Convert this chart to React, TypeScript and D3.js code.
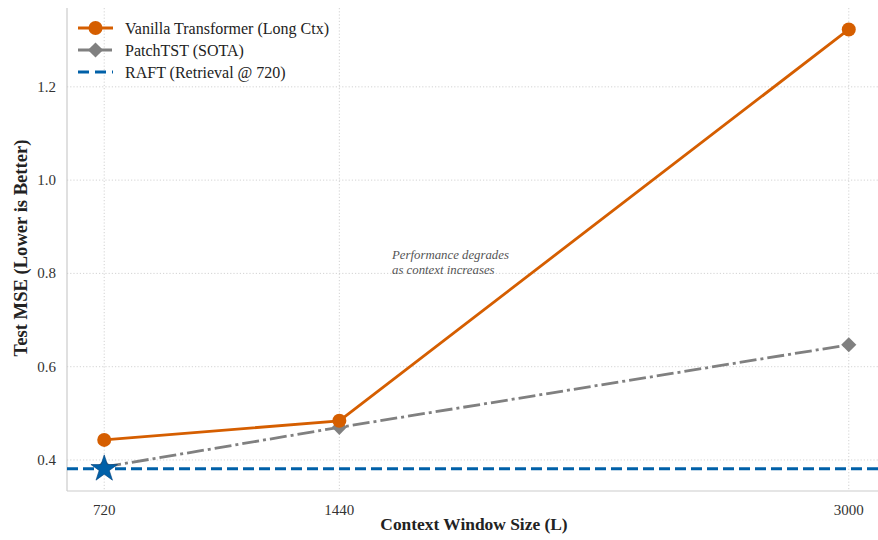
import { useEffect, useRef } from 'react';
import * as d3 from 'd3';

// context window sizes and test MSE
const contexts = [720, 1440, 3000];
const vanillaMse = [0.443, 0.484, 1.323];
const patchMse = [0.385, 0.47, 0.647];
const raftMse = 0.381;
const yTicks = [0.4, 0.6, 0.8, 1.0, 1.2];
const legendLabels = ['Vanilla Transformer (Long Ctx)', 'PatchTST (SOTA)', 'RAFT (Retrieval @ 720)'];
const noteLines = ['Performance degrades', 'as context increases'];

const W = 878;
const H = 540;
const FONT = '"Liberation Serif", "DejaVu Serif", serif';
const ORANGE = '#D55E00';
const GRAY = '#808080';
const BLUE = '#0060A8';

const App = () => {
    const ref = useRef(null);

    useEffect(() => {
        const svg = d3.select(ref.current);
        svg.selectAll('*').remove();

        const left = 67, right = 886, top = 8, bottom = 491;
        const x = d3.scaleLinear().domain([606, 3114]).range([left, right]);
        const y = d3.scaleLinear().domain([0.3335, 1.369]).range([bottom, top]);

        const g = svg.append('g').style('font-family', FONT);

        // grid
        g.append('g').selectAll('line').data(yTicks).join('line')
            .attr('x1', left).attr('x2', W).attr('y1', d => y(d)).attr('y2', d => y(d))
            .attr('stroke', '#c8c8c8').attr('stroke-width', 0.8).attr('stroke-dasharray', '1.2,2');
        g.append('g').selectAll('line').data(contexts).join('line')
            .attr('x1', d => x(d)).attr('x2', d => x(d)).attr('y1', top).attr('y2', bottom)
            .attr('stroke', '#c8c8c8').attr('stroke-width', 0.8).attr('stroke-dasharray', '1.2,2');

        // spines
        g.append('line').attr('x1', left).attr('x2', left).attr('y1', top).attr('y2', bottom)
            .attr('stroke', '#cccccc').attr('stroke-width', 1.2);
        g.append('line').attr('x1', left).attr('x2', W).attr('y1', bottom).attr('y2', bottom)
            .attr('stroke', '#cccccc').attr('stroke-width', 1.2);

        // tick labels
        g.append('g').selectAll('text').data(contexts).join('text')
            .attr('x', d => x(d)).attr('y', bottom + 24).attr('text-anchor', 'middle')
            .attr('font-size', 15).attr('fill', '#333').text(d => d);
        g.append('g').selectAll('text').data(yTicks).join('text')
            .attr('x', left - 11).attr('y', d => y(d) + 5).attr('text-anchor', 'end')
            .attr('font-size', 15).attr('fill', '#333').text(d => d.toFixed(1));

        // axis titles
        g.append('text').attr('x', 474).attr('y', 530).attr('text-anchor', 'middle')
            .attr('font-size', 17.4).attr('font-weight', 'bold').attr('fill', '#222')
            .text('Context Window Size (L)');
        g.append('text').attr('transform', `translate(27,248) rotate(-90)`)
            .attr('text-anchor', 'middle')
            .attr('font-size', 18.6).attr('font-weight', 'bold').attr('fill', '#222')
            .text('Test MSE (Lower is Better)');

        const line = d3.line().x(d => x(d[0])).y(d => y(d[1]));

        // PatchTST
        const patchPts = contexts.map((c, i) => [c, patchMse[i]]);
        g.append('path').attr('d', line(patchPts)).attr('fill', 'none')
            .attr('stroke', GRAY).attr('stroke-width', 2.8).attr('stroke-dasharray', '17,4,3,4');
        const diamond = d3.symbol().type(d3.symbolSquare).size(115);
        g.append('g').selectAll('path').data(patchPts).join('path')
            .attr('d', diamond()).attr('transform', d => `translate(${x(d[0])},${y(d[1])}) rotate(45)`)
            .attr('fill', GRAY);

        // Vanilla
        const vanPts = contexts.map((c, i) => [c, vanillaMse[i]]);
        g.append('path').attr('d', line(vanPts)).attr('fill', 'none')
            .attr('stroke', ORANGE).attr('stroke-width', 2.8);
        g.append('g').selectAll('circle').data(vanPts).join('circle')
            .attr('cx', d => x(d[0])).attr('cy', d => y(d[1])).attr('r', 7).attr('fill', ORANGE);

        // RAFT
        g.append('line').attr('x1', left).attr('x2', W).attr('y1', y(raftMse)).attr('y2', y(raftMse))
            .attr('stroke', BLUE).attr('stroke-width', 3).attr('stroke-dasharray', '11,5');
        g.append('path').attr('d', d3.symbol().type(d3.symbolStar).size(220)())
            .attr('transform', `translate(${x(contexts[0])},${y(raftMse)})`)
            .attr('fill', BLUE).attr('stroke', '#003f7a').attr('stroke-width', 0.6);

        // annotation
        g.append('g').selectAll('text').data(noteLines).join('text')
            .attr('x', 392).attr('y', (d, i) => 259 + i * 15)
            .attr('font-size', 12.8).attr('font-style', 'italic').attr('fill', '#555')
            .text(d => d);

        // legend
        const leg = g.append('g').attr('transform', 'translate(78,28)');
        legendLabels.forEach((lab, i) => {
            const row = leg.append('g').attr('transform', `translate(0,${i * 22})`);
            if (i === 0) {
                row.append('line').attr('x1', 0).attr('x2', 35).attr('stroke', ORANGE).attr('stroke-width', 2.8);
                row.append('circle').attr('cx', 17.5).attr('r', 7).attr('fill', ORANGE);
            } else if (i === 1) {
                row.append('line').attr('x1', 0).attr('x2', 35).attr('stroke', GRAY).attr('stroke-width', 2.8)
                    .attr('stroke-dasharray', '13,3,2,3');
                row.append('path').attr('d', diamond()).attr('transform', 'translate(17.5,0) rotate(45)').attr('fill', GRAY);
            } else {
                row.append('line').attr('x1', 0).attr('x2', 35).attr('stroke', BLUE).attr('stroke-width', 3)
                    .attr('stroke-dasharray', '11,6');
            }
            row.append('text').attr('x', 47).attr('y', 5.5).attr('font-size', 16).attr('fill', '#222').text(lab);
        });
    }, []);

    return <svg ref={ref} width={W} height={H} style={{ display: 'block', position: 'absolute', left: 0, top: 0 }} />;
};

export default App;
